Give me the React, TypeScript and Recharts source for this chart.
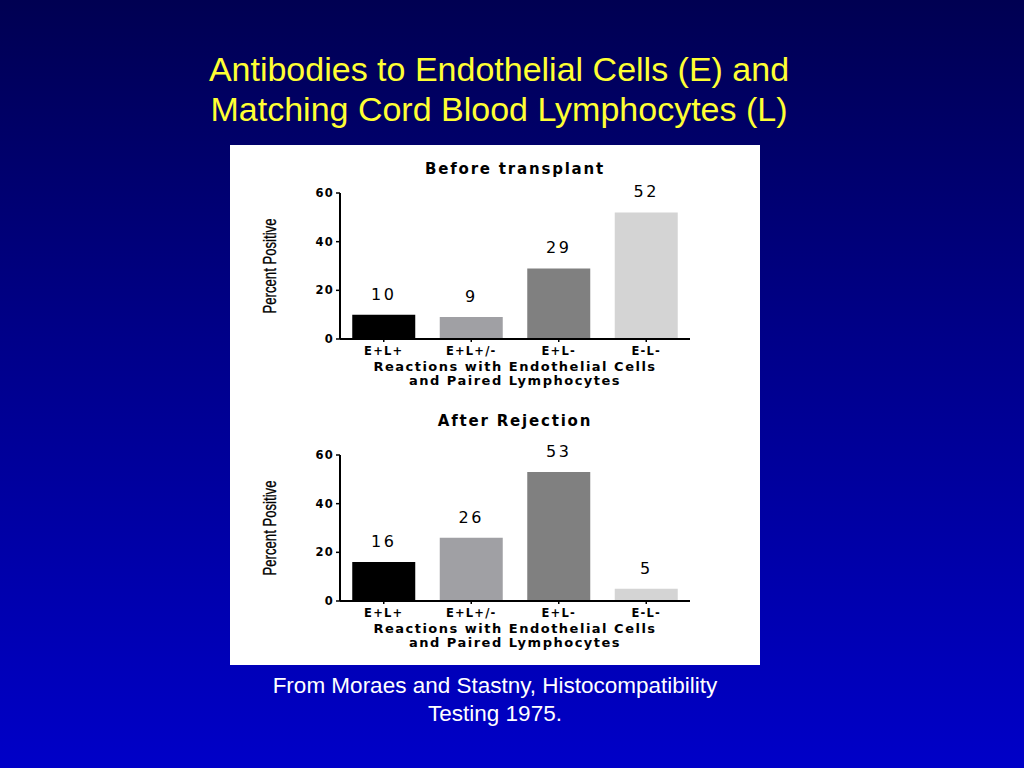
import React from "react";
import { BarChart, Bar, XAxis, YAxis, Cell, LabelList } from "recharts";

const categories = ["E+L+", "E+L+/-", "E+L-", "E-L-"];
const beforeValues = [10, 9, 29, 52];
const afterValues = [16, 26, 53, 5];
const barColors = ["#000000", "#a0a0a4", "#808080", "#d4d4d4"];
const yTicks = [0, 20, 40, 60];

const font = "'Liberation Sans', Arial, sans-serif";
const wide = "'DejaVu Sans', Verdana, sans-serif";

function AxisTitle(props: any) {
  const { viewBox } = props;
  const cx = viewBox.x + viewBox.width / 2;
  const y = viewBox.y;
  return (
    <text x={cx} textAnchor="middle" fontFamily={wide} fontWeight="bold" fontSize={13} fill="#000" letterSpacing={1.5}>
      <tspan x={cx} y={y + 32}>Reactions with Endothelial Cells</tspan>
      <tspan x={cx} y={y + 46}>and Paired Lymphocytes</tspan>
    </text>
  );
}

function YTitle(props: any) {
  const { viewBox } = props;
  const x = viewBox.x + viewBox.width - 64;
  const y = viewBox.y + viewBox.height / 2;
  return (
    <text
      x={x}
      y={y}
      transform={`rotate(-90 ${x} ${y})`}
      textAnchor="middle"
      fontFamily={font}
      fontSize={18}
      textLength={95}
      lengthAdjust="spacingAndGlyphs"
      fill="#000"
      stroke="#000"
      strokeWidth={0.3}
    >
      Percent Positive
    </text>
  );
}

function Panel({ title, values, titleTop }: { title: string; values: number[]; titleTop: number }) {
  const data = categories.map((c, i) => ({ name: c, value: values[i] }));
  return (
    <div style={{ position: "relative", width: 530, height: 258 }}>
      <div
        style={{
          position: "absolute",
          left: 0,
          top: titleTop,
          width: 570,
          textAlign: "center",
          fontFamily: wide,
          fontWeight: "bold",
          fontSize: 15,
          letterSpacing: 1.8,
          color: "#000",
        }}
      >
        {title}
      </div>
      <BarChart
        width={530}
        height={258}
        data={data}
        margin={{ top: 48, right: 70, bottom: 34, left: 70 }}
        barCategoryGap="14%"
      >
        <XAxis
          dataKey="name"
          height={30}
          axisLine={{ stroke: "#000", strokeWidth: 2 }}
          tickLine={{ stroke: "#000", strokeWidth: 1.5 }}
          tickSize={3}
          tickMargin={5}
          tick={{ fill: "#000", fontSize: 11.5, fontWeight: "bold", fontFamily: wide, letterSpacing: 1.2 }}
          interval={0}
          label={<AxisTitle />}
        />
        <YAxis
          domain={[0, 60]}
          ticks={yTicks}
          width={40}
          axisLine={{ stroke: "#000", strokeWidth: 2 }}
          tickLine={{ stroke: "#000", strokeWidth: 1.5 }}
          tickSize={4}
          tick={{ fill: "#000", fontSize: 11.5, fontWeight: "bold", fontFamily: wide, letterSpacing: 1.2 }}
          label={<YTitle />}
        />
        <Bar dataKey="value" isAnimationActive={false}>
          {data.map((d, i) => (
            <Cell key={d.name} fill={barColors[i]} />
          ))}
          <LabelList
            dataKey="value"
            position="top"
            offset={15}
            fill="#000"
            fontSize={16}
            fontFamily={wide}
            letterSpacing={2.5}
          />
        </Bar>
      </BarChart>
    </div>
  );
}

export default function App() {
  return (
    <div
      style={{
        position: "absolute",
        left: 0,
        top: 0,
        width: 1024,
        height: 768,
        background: "linear-gradient(180deg, #000052 0%, #00008a 45%, #0000c8 100%)",
        fontFamily: font,
        overflow: "hidden",
      }}
    >
      <div
        style={{
          position: "absolute",
          left: 0,
          width: 998,
          top: 49,
          textAlign: "center",
          color: "#ffff33",
          fontSize: 34,
          lineHeight: "40px",
        }}
      >
        Antibodies to Endothelial Cells (E) and
        <br />
        Matching Cord Blood Lymphocytes (L)
      </div>
      <div
        style={{
          position: "absolute",
          left: 230,
          top: 145,
          width: 530,
          height: 520,
          background: "#ffffff",
        }}
      >
        <Panel title="Before transplant" values={beforeValues} titleTop={15} />
        <div style={{ height: 4 }} />
        <Panel title="After Rejection" values={afterValues} titleTop={5} />
      </div>
      <div
        style={{
          position: "absolute",
          left: 0,
          width: 990,
          top: 672,
          textAlign: "center",
          color: "#ffffff",
          fontSize: 22.5,
          lineHeight: "28px",
        }}
      >
        From Moraes and Stastny, Histocompatibility
        <br />
        Testing 1975.
      </div>
    </div>
  );
}
